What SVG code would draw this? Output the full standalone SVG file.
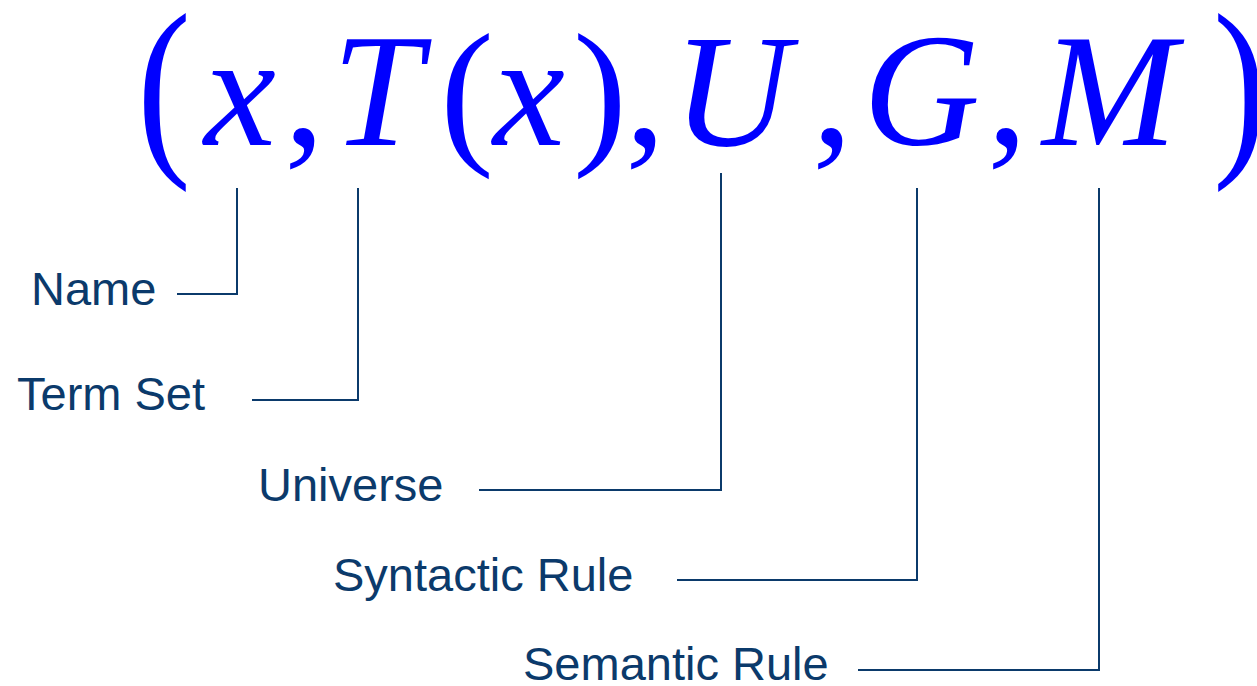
<svg xmlns="http://www.w3.org/2000/svg" width="1257" height="686" viewBox="0 0 1257 686">
<style>
.f{font-family:"Liberation Serif","Times New Roman",serif;font-size:162px;fill:#0000ff}
.i{font-style:italic}
.lbl{font-family:"Liberation Sans",Arial,sans-serif;font-size:47px;fill:#0b3a6b}
.c{fill:none;stroke:#0b3a6b;stroke-width:2}
</style>
<rect width="1257" height="686" fill="#ffffff"/>
<g id="formula">
<text class="f" transform="translate(137,150) scale(1,1.22)">(</text>
<text class="f i" x="204" y="145">x</text>
<text class="f" x="284" y="145">,</text>
<text class="f i" x="332" y="145">T</text>
<text class="f" x="440" y="145">(</text>
<text class="f i" x="493" y="145">x</text>
<text class="f" x="573" y="145">)</text>
<text class="f" x="625" y="145">,</text>
<text class="f i" x="673" y="145">U</text>
<text class="f" x="812" y="145">,</text>
<text class="f i" x="863" y="145">G</text>
<text class="f" x="987" y="145">,</text>
<text class="f i" x="1042" y="145">M</text>
<text class="f" transform="translate(1213,150) scale(1,1.22)">)</text>
</g>
<g id="connectors">
<polyline class="c" points="237,188 237,294 177,294"/>
<polyline class="c" points="358,188 358,400 252,400"/>
<polyline class="c" points="721,173 721,490 479,490"/>
<polyline class="c" points="917,188 917,580 677,580"/>
<polyline class="c" points="1099,188 1099,670 858,670"/>
</g>
<g id="name"><text class="lbl" x="31" y="305">Name</text></g>
<g id="termset"><text class="lbl" x="17" y="410">Term Set</text></g>
<g id="universe"><text class="lbl" x="258" y="501">Universe</text></g>
<g id="syntactic"><text class="lbl" x="333" y="591">Syntactic Rule</text></g>
<g id="semantic"><text class="lbl" x="523" y="680">Semantic Rule</text></g>
</svg>
